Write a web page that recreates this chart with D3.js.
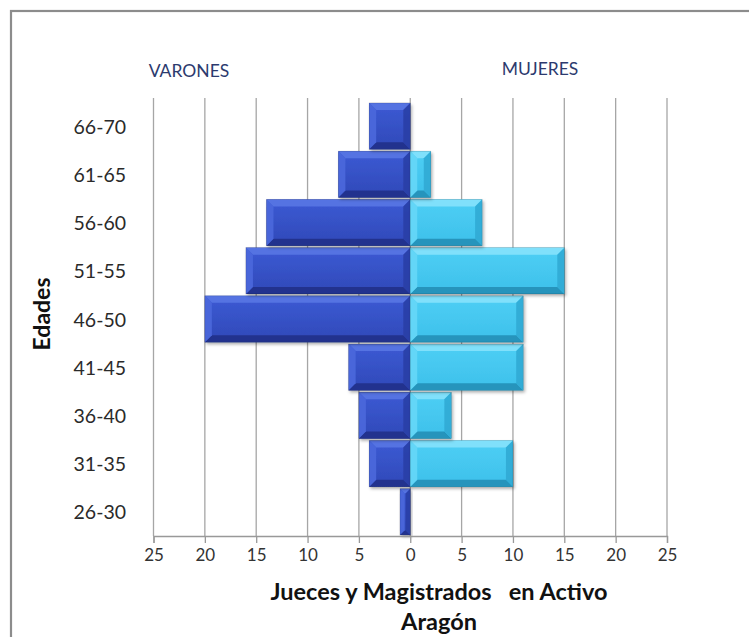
<!DOCTYPE html>
<html><head><meta charset="utf-8">
<script src="https://cdn.jsdelivr.net/npm/d3@7"></script>
<style>html,body{margin:0;padding:0;background:#fff;}svg{display:block;}</style>
</head><body>
<svg id="chart" width="749" height="637"></svg>
<script>
const ageGroups = ["26-30","31-35","36-40","41-45","46-50","51-55","56-60","61-65","66-70"];
const varones = [1,4,5,6,20,16,14,7,4];
const mujeres = [0,10,4,11,11,15,7,2,0];
const tickValues = [-25,-20,-15,-10,-5,0,5,10,15,20,25];
const seriesNames = ["VARONES","MUJERES"];
const xTitle = ["Jueces y Magistrados   en Activo","Aragón"];
const yTitle = "Edades";

const svg = d3.select("#chart");
const font = "Lato, 'Open Sans', sans-serif";
const W = 749, H = 637;

// frame
svg.append("rect").attr("x",11).attr("y",11).attr("width",W+20).attr("height",H+20)
  .attr("fill","none").attr("stroke","#8c8c8c").attr("stroke-width",2.2);

const x = d3.scaleLinear().domain([-25,25]).range([153.5,667]);
const y = d3.scaleBand().domain(ageGroups.slice().reverse()).range([102,536]).paddingInner(0.04).paddingOuter(0.02);

// gridlines
svg.append("g").selectAll("line").data(tickValues).join("line")
  .attr("x1",d=>x(d)).attr("x2",d=>x(d)).attr("y1",98).attr("y2",536)
  .attr("stroke","#a6a6a6").attr("stroke-width",1.3);

// defs
const defs = svg.append("defs");
const f = defs.append("filter").attr("id","sh").attr("x","-10%").attr("y","-10%").attr("width","130%").attr("height","140%");
f.append("feDropShadow").attr("dx",1.5).attr("dy",2).attr("stdDeviation",1.5).attr("flood-color","#000").attr("flood-opacity",0.3);

const palettes = {
  v: {top:"#5473e2", base1:"#3c5ad4", base2:"#3049b8", bottom:"#22338e", left:"#4a68dc", right:"#2a3ea4"},
  m: {top:"#80e0fb", base1:"#4ecff5", base2:"#3dc0ea", bottom:"#2594bc", left:"#66d7f7", right:"#2ea8d2"}
};
Object.entries(palettes).forEach(([k,p])=>{
  const g = defs.append("linearGradient").attr("id","g"+k).attr("x1",0).attr("x2",0).attr("y1",0).attr("y2",1);
  g.append("stop").attr("offset","0%").attr("stop-color",p.base1);
  g.append("stop").attr("offset","100%").attr("stop-color",p.base2);
});

function bevelBar(g, x0, y0, w, h, key){
  const p = palettes[key];
  if (w <= 0) return;
  const b = Math.min(7, w/2.2, h/2.5);
  const gg = g.append("g").attr("filter","url(#sh)");
  gg.append("rect").attr("x",x0).attr("y",y0).attr("width",w).attr("height",h).attr("fill","url(#g"+key+")");
  const pts = a => a.map(q=>q.join(",")).join(" ");
  gg.append("polygon").attr("points",pts([[x0,y0],[x0+w,y0],[x0+w-b,y0+b],[x0+b,y0+b]])).attr("fill",p.top);
  gg.append("polygon").attr("points",pts([[x0,y0+h],[x0+w,y0+h],[x0+w-b,y0+h-b],[x0+b,y0+h-b]])).attr("fill",p.bottom);
  gg.append("polygon").attr("points",pts([[x0,y0],[x0+b,y0+b],[x0+b,y0+h-b],[x0,y0+h]])).attr("fill",p.left).attr("opacity",0.9);
  gg.append("polygon").attr("points",pts([[x0+w,y0],[x0+w-b,y0+b],[x0+w-b,y0+h-b],[x0+w,y0+h]])).attr("fill",p.right).attr("opacity",0.85);
  gg.append("rect").attr("x",x0).attr("y",y0).attr("width",w).attr("height",h).attr("fill","none").attr("stroke","rgba(0,0,0,0.22)").attr("stroke-width",0.6);
}

const bars = svg.append("g");
ageGroups.forEach((a,i)=>{
  const yy = y(a), hh = y.bandwidth();
  bevelBar(bars, x(-varones[i]), yy, x(0)-x(-varones[i]), hh, "v");
  bevelBar(bars, x(0), yy, x(mujeres[i])-x(0), hh, "m");
});

// bottom axis
const axis = d3.axisBottom(x).tickValues(tickValues).tickFormat(d=>Math.abs(d)).tickSize(7).tickPadding(6);
const ax = svg.append("g").attr("transform","translate(0,536)").call(axis);
ax.select(".domain").attr("stroke","#999").attr("stroke-width",1.3);
ax.selectAll(".tick line").attr("stroke","#999").attr("stroke-width",1.3);
ax.selectAll(".tick text").attr("font-family",font).attr("font-size",17).attr("fill","#333");

// y labels
svg.append("g").selectAll("text").data(ageGroups).join("text")
  .attr("x",126).attr("y",d=>y(d)+y.bandwidth()/2)
  .attr("text-anchor","end").attr("dominant-baseline","central")
  .attr("font-family",font).attr("font-size",19.5).attr("fill","#2a2a2a")
  .text(d=>d);

// titles
svg.append("text").attr("transform","translate(50,314) rotate(-90)")
  .attr("text-anchor","middle").attr("font-family",font).attr("font-weight","bold")
  .attr("font-size",23).attr("fill","#111").text(yTitle);

svg.selectAll(".xt").data(xTitle).join("text").attr("class","xt")
  .attr("x",439).attr("y",(d,i)=>600+i*30).attr("text-anchor","middle")
  .style("white-space","pre")
  .attr("font-family",font).attr("font-weight","bold").attr("font-size",23.5).attr("fill","#111")
  .text(d=>d);

svg.selectAll(".sn").data(seriesNames).join("text").attr("class","sn")
  .attr("x",(d,i)=>i===0?189:540).attr("y",(d,i)=>i===0?77:75).attr("text-anchor","middle")
  .attr("font-family",font).attr("font-size",17.5).attr("fill","#2c3a6e")
  .text(d=>d);
</script>
</body></html>
